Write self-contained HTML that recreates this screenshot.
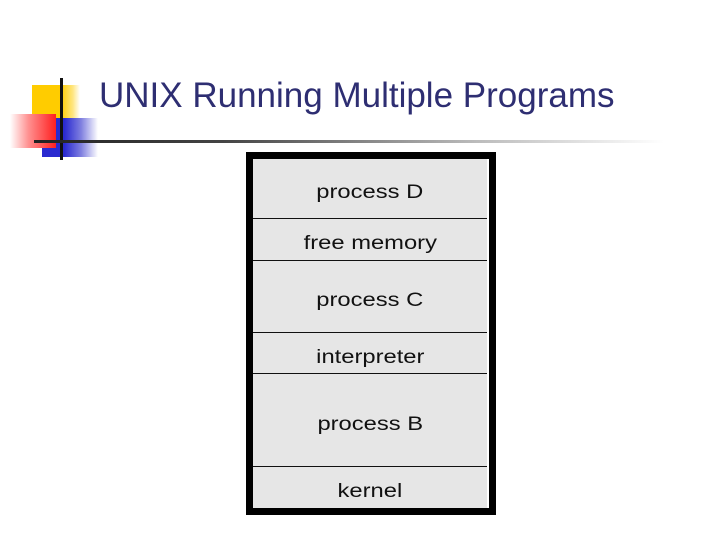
<!DOCTYPE html>
<html><head><style>
body{margin:0;width:720px;height:540px;background:#fff;position:relative;overflow:hidden;font-family:"Liberation Sans",sans-serif}
.a{position:absolute}
.row{position:absolute;left:253px;width:234px;background:#e6e6e6;text-align:center;font-size:19px;color:#111;border-bottom:1px solid #111;box-sizing:border-box;display:flex;align-items:center;justify-content:center;padding-top:9px}
.row span{display:inline-block;transform:scaleX(1.25)}
</style></head><body>
<div class="a" style="left:32px;top:85px;width:48px;height:33px;background:linear-gradient(90deg,#ffcc00 60%,#ffe680 85%,#fff)"></div>
<div class="a" style="left:42px;top:118px;width:56px;height:39px;background:linear-gradient(90deg,#2a2ad0 40%,#8080e0 70%,#fff)"></div>
<div class="a" style="left:10px;top:114px;width:46px;height:34px;background:linear-gradient(90deg,#fff 0%,#ff9090 40%,#ff2020 100%)"></div>
<div class="a" style="left:60px;top:78px;width:3px;height:82px;background:#111"></div>
<div class="a" style="left:34px;top:140px;width:630px;height:3px;background:linear-gradient(90deg,#222 0%,#444 30%,#bbb 70%,#fff)"></div>
<div class="a" style="left:99px;top:76px;font-size:35px;color:#2e2e72;white-space:nowrap">UNIX Running Multiple Programs</div>
<div class="a" style="left:246px;top:152px;width:250px;height:363px;background:#000"></div>
<div class="a" style="left:253px;top:159px;width:236px;height:349px;background:#fff"></div>
<div class="row" style="top:159px;height:60px"><span>process D</span></div>
<div class="row" style="top:219px;height:42px"><span>free memory</span></div>
<div class="row" style="top:261px;height:72px"><span>process C</span></div>
<div class="row" style="top:333px;height:41px"><span>interpreter</span></div>
<div class="row" style="top:374px;height:93px"><span>process B</span></div>
<div class="row" style="top:467px;height:41px;border-bottom:none"><span>kernel</span></div>
</body></html>
